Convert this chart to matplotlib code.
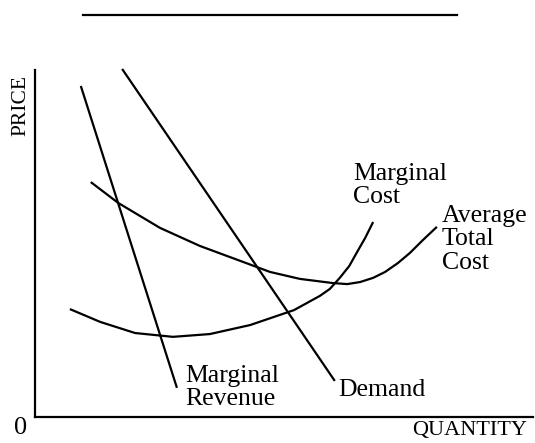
import matplotlib
matplotlib.use("Agg")
import matplotlib.pyplot as plt

# curve points (quantity, price on a 0-100 scale)
mr_q = [9.2, 28.5]
mr_p = [95.4, 8.4]

demand_q = [17.5, 60.2]
demand_p = [100.3, 10.4]

atc_q = [11.2, 16.7, 25.1, 33.1, 41.2, 47.2, 53.2, 59.8, 62.7, 65.3, 67.9,
         70.3, 72.9, 75.3, 77.9, 80.7]
atc_p = [67.7, 61.7, 54.5, 49.3, 45.0, 41.8, 39.8, 38.6, 38.3, 38.9, 40.1,
         41.8, 44.4, 47.3, 51.0, 54.8]

mc_q = [7.0, 13.1, 20.1, 27.7, 35.1, 43.2, 52.0, 57.2, 59.2, 61.2, 63.1, 64.7, 66.3, 67.9]
mc_p = [31.1, 27.4, 24.2, 23.1, 23.9, 26.5, 30.8, 34.9, 36.9, 40.1, 43.5, 47.6, 51.6, 56.2]

labels = {
    "Marginal\nRevenue": (30.1, 8.5),
    "Demand": (60.8, 7.8),
    "Marginal\nCost": (63.9, 66.7),
    "Average\nTotal\nCost": (81.7, 51.2),
}

plt.rcParams["font.family"] = ["Liberation Serif", "DejaVu Serif"]

fig = plt.figure(figsize=(5.35, 4.43), dpi=100)
ax = fig.add_axes([35 / 535, 26 / 443, 498 / 535, 347 / 443])

lw = 1.6
for q, p in [(mr_q, mr_p), (demand_q, demand_p), (atc_q, atc_p), (mc_q, mc_p)]:
    ax.plot(q, p, color="black", lw=lw, clip_on=False, solid_capstyle="butt",
            solid_joinstyle="round")

for txt, (x, y) in labels.items():
    ax.text(x, y, txt, fontsize=18.5, ha="left", va="center", linespacing=1.08)

ax.set_xlim(0, 100)
ax.set_ylim(0, 100)
ax.spines[["top", "right"]].set_visible(False)
ax.spines[["left", "bottom"]].set_linewidth(1.6)
ax.set_xticks([])
ax.set_yticks([])

ax.text(-2.8, -3.2, "0", fontsize=19, ha="center", va="center", clip_on=False)
ax.text(98.8, -4.0, "QUANTITY", fontsize=16, ha="right", va="center", clip_on=False)
ax.text(-2.9, 89.9, "PRICE", fontsize=15.5, ha="center", va="center", rotation=90, clip_on=False)

# rule across the top
ax.plot([9.6, 84.7], [115.8, 115.8], color="black", lw=1.6, clip_on=False)

fig.savefig("out.png", dpi=100)
